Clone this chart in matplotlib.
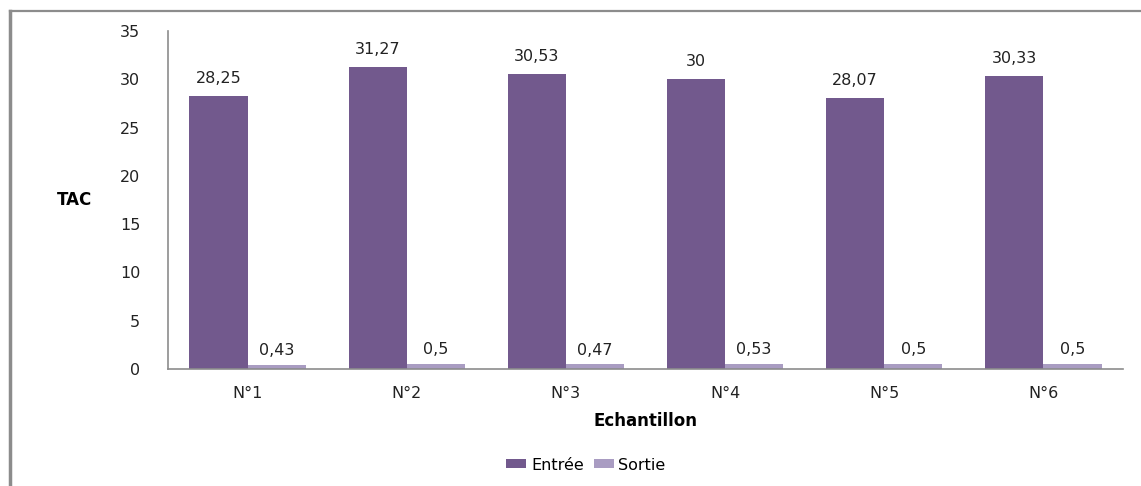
import matplotlib
matplotlib.use("Agg")
import matplotlib.pyplot as plt
import numpy as np
from matplotlib.lines import Line2D

categories = ["N°1", "N°2", "N°3", "N°4", "N°5", "N°6"]
entree = [28.25, 31.27, 30.53, 30, 28.07, 30.33]
sortie = [0.43, 0.5, 0.47, 0.53, 0.5, 0.5]
entree_labels = ["28,25", "31,27", "30,53", "30", "28,07", "30,33"]
sortie_labels = ["0,43", "0,5", "0,47", "0,53", "0,5", "0,5"]

COLOR_IN = "#72598d"
COLOR_OUT = "#a99cc2"
GRID_GREY = "#8c8c8c"
TXT = "#222222"
FS = 11.5

plt.rcParams["font.family"] = ["DejaVu Sans"]

fig = plt.figure(figsize=(11.41, 4.86), dpi=100)
ax = fig.add_axes([168 / 1141, 1 - 369 / 486, (1123 - 168) / 1141, (369 - 31) / 486])

x = np.arange(len(categories))
width = 0.365
bars_in = ax.bar(x - width / 2, entree, width, color=COLOR_IN, label="Entrée")
bars_out = ax.bar(x + width / 2, sortie, width, color=COLOR_OUT, label="Sortie")

for rect, txt in zip(bars_in, entree_labels):
    ax.annotate(txt, (rect.get_x() + rect.get_width() / 2, rect.get_height()),
                xytext=(0, 7.5), textcoords="offset points", ha="center", va="bottom",
                fontsize=FS, color=TXT)
for rect, txt in zip(bars_out, sortie_labels):
    ax.annotate(txt, (rect.get_x() + rect.get_width() / 2, rect.get_height()),
                xytext=(0, 5), textcoords="offset points", ha="center", va="bottom",
                fontsize=FS, color=TXT)

ax.set_xlim(-0.5, len(categories) - 0.5)
ax.set_ylim(0, 35)
ax.set_yticks(range(0, 36, 5))
ax.set_xticks(x)
ax.set_xticklabels(categories)
ax.tick_params(axis="y", length=0, pad=20, labelsize=FS, labelcolor=TXT)
ax.tick_params(axis="x", length=0, pad=12, labelsize=FS, labelcolor=TXT)

for side in ("top", "right"):
    ax.spines[side].set_visible(False)
for side in ("left", "bottom"):
    ax.spines[side].set_color(GRID_GREY)
    ax.spines[side].set_linewidth(1.2)

ax.set_ylabel("TAC", rotation=0, fontsize=12, fontweight="bold", va="center", ha="center")
ax.yaxis.set_label_coords(-0.098, 0.5)
ax.set_xlabel("Echantillon", fontsize=12, fontweight="bold", labelpad=8)

fig.legend(handles=[bars_in, bars_out], labels=["Entrée", "Sortie"],
           loc="center", bbox_to_anchor=(586 / 1141, 1 - 465 / 486), ncol=2,
           frameon=False, fontsize=FS, handlelength=1.25, handleheight=0.5,
           handletextpad=0.3, columnspacing=0.6)

# outer chart frame
fig.add_artist(Line2D([10 / 1141, 10 / 1141], [0, 1 - 11 / 486],
                      transform=fig.transFigure, color=GRID_GREY, lw=2.5))
fig.add_artist(Line2D([10 / 1141, 1], [1 - 11 / 486, 1 - 11 / 486],
                      transform=fig.transFigure, color=GRID_GREY, lw=1.6))

fig.savefig("out.png", dpi=100)
